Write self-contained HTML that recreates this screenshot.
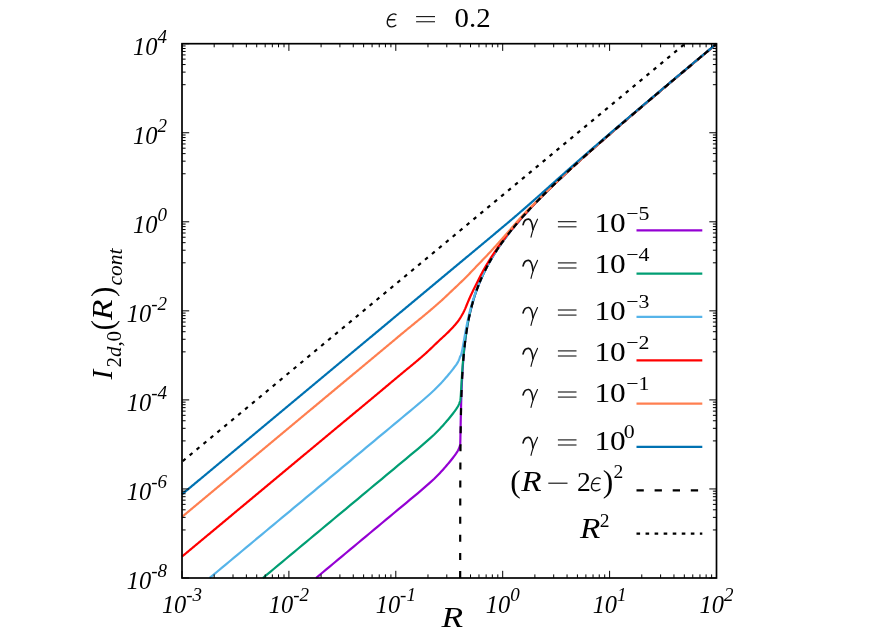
<!DOCTYPE html>
<html><head><meta charset="utf-8"><title>plot</title>
<style>html,body{margin:0;padding:0;background:#fff}body{width:872px;height:638px;position:relative;overflow:hidden;font-family:"Liberation Serif",serif}</style>
</head><body>
<svg width="872" height="638" viewBox="0 0 872 638" style="position:absolute;left:0;top:0;will-change:transform">
<rect x="0" y="0" width="872" height="638" fill="#fff"/>
<g fill="none" stroke-width="2.2" stroke-linejoin="round" stroke-linecap="butt">
<path d="M316.00 578.00 L318.00 576.33 L322.00 573.00 L326.00 569.67 L330.00 566.34 L334.00 563.01 L338.00 559.67 L342.00 556.34 L346.00 553.01 L350.00 549.68 L354.00 546.35 L358.00 543.01 L362.00 539.68 L366.00 536.35 L370.00 533.02 L374.00 529.68 L378.00 526.35 L382.00 523.02 L386.00 519.69 L390.00 516.36 L394.00 513.02 L398.00 509.69 L402.00 506.36 L406.00 503.03 L410.00 499.70 L414.00 496.36 L418.00 493.03 L422.00 489.65 L426.00 486.17 L430.00 482.63 L434.00 478.94 L438.00 474.97 L440.00 472.91 L441.00 471.85 L442.00 470.75 L443.00 469.64 L444.00 468.51 L445.00 467.37 L446.00 466.23 L447.00 465.07 L448.00 463.90 L449.00 462.71 L450.00 461.49 L451.00 460.24 L452.00 458.98 L453.00 457.70 L454.00 456.41 L455.00 455.08 L456.00 453.69 L457.00 452.22 L458.00 450.52 L458.05 450.42 L458.10 450.32 L458.15 450.22 L458.20 450.12 L458.25 450.02 L458.30 449.92 L458.35 449.82 L458.40 449.71 L458.45 449.61 L458.50 449.50 L458.55 449.39 L458.60 449.28 L458.65 449.17 L458.70 449.06 L458.75 448.95 L458.80 448.84 L458.85 448.72 L458.90 448.61 L458.95 448.49 L459.00 448.38 L459.05 448.26 L459.10 448.14 L459.15 448.02 L459.20 447.89 L459.25 447.76 L459.30 447.63 L459.35 447.50 L459.40 447.36 L459.45 447.22 L459.50 447.09 L459.55 446.94 L459.60 446.80 L459.65 446.66 L459.70 446.51 L459.75 446.36 L459.80 446.21 L459.85 446.06 L459.90 445.90 L459.95 445.74 L460.00 445.57 L460.05 445.40 L460.10 445.23 L460.15 445.05 L460.20 444.77 L460.25 443.83 L460.30 442.28 L460.35 440.24 L460.40 437.88 L460.45 435.31 L460.50 432.65 L460.55 429.95 L460.60 427.28 L460.65 424.67 L460.70 422.13 L460.75 419.68 L460.80 417.32 L460.85 415.06 L460.90 412.88 L460.95 410.79 L461.00 408.79 L461.05 406.86 L461.10 405.01 L461.15 403.23 L461.20 401.52 L461.25 399.87 L461.30 398.28 L461.35 396.75 L461.40 395.26 L461.45 393.83 L461.50 392.44 L461.55 391.09 L461.60 389.79 L461.65 388.52 L461.70 387.29 L461.75 386.10 L461.80 384.94 L461.85 383.81 L461.90 382.71 L461.95 381.63 L462.00 380.59 L462.05 379.57 L462.10 378.57 L462.15 377.60 L462.20 376.65 L462.25 375.72 L462.30 374.81 L462.35 373.92 L462.40 373.05 L462.45 372.19 L462.50 371.36 L462.55 370.54 L462.60 369.73 L462.65 368.94 L462.70 368.17 L462.75 367.41 L462.80 366.66 L462.85 365.93 L462.90 365.21 L462.95 364.50 L463.00 363.80 L463.05 363.12 L463.10 362.44 L463.15 361.78 L463.20 361.12 L463.25 360.48 L463.30 359.85 L463.35 359.22 L463.40 358.61 L463.45 358.00 L463.50 357.40 L463.55 356.81 L463.60 356.23 L463.65 355.66 L463.70 355.09 L463.75 354.54 L463.80 353.99 L463.85 353.44 L463.90 352.90 L463.95 352.37 L464.00 351.85 L464.50 346.94 L465.00 342.54 L465.50 338.54 L466.00 334.88 L466.50 331.51 L467.00 328.37 L467.50 325.43 L468.00 322.67 L468.50 320.07 L469.00 317.61 L469.50 315.27 L470.00 313.04 L470.50 310.91 L471.00 308.87 L471.50 306.91 L472.00 305.03 L472.50 303.21 L473.00 301.46 L473.50 299.76 L474.00 298.12 L474.50 296.53 L475.00 294.99 L475.50 293.49 L476.00 292.03 L476.50 290.61 L477.00 289.22 L477.50 287.87 L478.00 286.55 L478.50 285.26 L479.00 284.00 L479.50 282.76 L480.00 281.55 L483.00 274.76 L486.00 268.63 L489.00 263.01 L492.00 257.80 L495.00 252.92 L498.00 248.32 L501.00 243.94 L504.00 239.77 L507.00 235.76 L510.00 231.89 L513.00 228.16 L516.00 224.53 L519.00 221.01 L522.00 217.57 L525.00 214.22 L528.00 210.93 L531.00 207.71 L534.00 204.54 L537.00 201.43 L540.00 198.36 L543.00 195.34 L546.00 192.35 L549.00 189.40 L552.00 186.49 L555.00 183.60 L558.00 180.75 L561.00 177.91 L564.00 175.10 L567.00 172.32 L570.00 169.55 L573.00 166.80 L576.00 164.07 L579.00 161.35 L582.00 158.65 L585.00 155.96 L588.00 153.29 L591.00 150.63 L594.00 147.97 L597.00 145.33 L600.00 142.70 L603.00 140.07 L606.00 137.46 L609.00 134.85 L612.00 132.25 L615.00 129.65 L618.00 127.07 L621.00 124.48 L624.00 121.91 L627.00 119.33 L630.00 116.77 L633.00 114.20 L636.00 111.64 L639.00 109.09 L642.00 106.54 L645.00 103.99 L648.00 101.44 L651.00 98.90 L654.00 96.36 L657.00 93.83 L660.00 91.29 L663.00 88.76 L666.00 86.23 L669.00 83.70 L672.00 81.17 L675.00 78.65 L678.00 76.13 L681.00 73.61 L684.00 71.09 L687.00 68.57 L690.00 66.05 L693.00 63.53 L696.00 61.02 L699.00 58.50 L702.00 55.99 L705.00 53.48 L708.00 50.97 L711.00 48.46 L714.00 45.95 L716.50 43.86" stroke="#9400D3"/>
<path d="M262.90 578.00 L266.00 575.42 L270.00 572.09 L274.00 568.75 L278.00 565.42 L282.00 562.09 L286.00 558.76 L290.00 555.43 L294.00 552.09 L298.00 548.76 L302.00 545.43 L306.00 542.10 L310.00 538.76 L314.00 535.43 L318.00 532.10 L322.00 528.77 L326.00 525.44 L330.00 522.10 L334.00 518.77 L338.00 515.44 L342.00 512.11 L346.00 508.78 L350.00 505.44 L354.00 502.11 L358.00 498.78 L362.00 495.45 L366.00 492.12 L370.00 488.78 L374.00 485.45 L378.00 482.12 L382.00 478.79 L386.00 475.46 L390.00 472.12 L394.00 468.79 L398.00 465.46 L402.00 462.13 L406.00 458.79 L410.00 455.46 L414.00 452.13 L418.00 448.80 L422.00 445.42 L426.00 441.93 L430.00 438.39 L434.00 434.71 L438.00 430.74 L440.00 428.67 L441.00 427.61 L442.00 426.52 L443.00 425.40 L444.00 424.27 L445.00 423.14 L446.00 422.00 L447.00 420.84 L448.00 419.67 L449.00 418.47 L450.00 417.26 L451.00 416.01 L452.00 414.74 L453.00 413.46 L454.00 412.18 L455.00 410.85 L456.00 409.46 L457.00 407.99 L458.00 406.28 L458.05 406.19 L458.10 406.09 L458.15 405.99 L458.20 405.89 L458.25 405.79 L458.30 405.69 L458.35 405.58 L458.40 405.48 L458.45 405.37 L458.50 405.27 L458.55 405.16 L458.60 405.05 L458.65 404.94 L458.70 404.83 L458.75 404.72 L458.80 404.60 L458.85 404.49 L458.90 404.38 L458.95 404.26 L459.00 404.14 L459.05 404.03 L459.10 403.91 L459.15 403.78 L459.20 403.66 L459.25 403.53 L459.30 403.40 L459.35 403.26 L459.40 403.13 L459.45 402.99 L459.50 402.85 L459.55 402.71 L459.60 402.57 L459.65 402.42 L459.70 402.28 L459.75 402.13 L459.80 401.98 L459.85 401.82 L459.90 401.67 L459.95 401.50 L460.00 401.34 L460.05 401.17 L460.10 401.00 L460.15 400.82 L460.20 400.75 L460.25 400.63 L460.30 400.45 L460.35 400.19 L460.40 399.86 L460.45 399.46 L460.50 399.01 L460.55 398.49 L460.60 397.93 L460.65 397.31 L460.70 396.65 L460.75 395.95 L460.80 395.22 L460.85 394.46 L460.90 393.67 L460.95 392.86 L461.00 392.03 L461.05 391.19 L461.10 390.34 L461.15 389.47 L461.20 388.61 L461.25 387.73 L461.30 386.86 L461.35 385.99 L461.40 385.12 L461.45 384.25 L461.50 383.39 L461.55 382.53 L461.60 381.67 L461.65 380.83 L461.70 379.99 L461.75 379.16 L461.80 378.33 L461.85 377.52 L461.90 376.71 L461.95 375.92 L462.00 375.13 L462.05 374.35 L462.10 373.58 L462.15 372.82 L462.20 372.07 L462.25 371.33 L462.30 370.60 L462.35 369.88 L462.40 369.16 L462.45 368.46 L462.50 367.76 L462.55 367.08 L462.60 366.40 L462.65 365.73 L462.70 365.07 L462.75 364.42 L462.80 363.77 L462.85 363.14 L462.90 362.51 L462.95 361.89 L463.00 361.28 L463.05 360.67 L463.10 360.08 L463.15 359.49 L463.20 358.90 L463.25 358.33 L463.30 357.76 L463.35 357.19 L463.40 356.64 L463.45 356.09 L463.50 355.54 L463.55 355.01 L463.60 354.47 L463.65 353.95 L463.70 353.43 L463.75 352.92 L463.80 352.41 L463.85 351.90 L463.90 351.41 L463.95 350.91 L464.00 350.43 L464.50 345.82 L465.00 341.63 L465.50 337.80 L466.00 334.26 L466.50 330.97 L467.00 327.91 L467.50 325.03 L468.00 322.33 L468.50 319.77 L469.00 317.34 L469.50 315.03 L470.00 312.82 L470.50 310.71 L471.00 308.69 L471.50 306.75 L472.00 304.88 L472.50 303.07 L473.00 301.33 L473.50 299.65 L474.00 298.02 L474.50 296.43 L475.00 294.90 L475.50 293.40 L476.00 291.95 L476.50 290.53 L477.00 289.15 L477.50 287.80 L478.00 286.49 L478.50 285.20 L479.00 283.94 L479.50 282.71 L480.00 281.50 L483.00 274.73 L486.00 268.60 L489.00 262.99 L492.00 257.79 L495.00 252.91 L498.00 248.31 L501.00 243.93 L504.00 239.76 L507.00 235.75 L510.00 231.89 L513.00 228.15 L516.00 224.53 L519.00 221.01 L522.00 217.57 L525.00 214.21 L528.00 210.93 L531.00 207.70 L534.00 204.54 L537.00 201.43 L540.00 198.36 L543.00 195.34 L546.00 192.35 L549.00 189.40 L552.00 186.49 L555.00 183.60 L558.00 180.74 L561.00 177.91 L564.00 175.10 L567.00 172.32 L570.00 169.55 L573.00 166.80 L576.00 164.07 L579.00 161.35 L582.00 158.65 L585.00 155.96 L588.00 153.29 L591.00 150.62 L594.00 147.97 L597.00 145.33 L600.00 142.70 L603.00 140.07 L606.00 137.46 L609.00 134.85 L612.00 132.25 L615.00 129.65 L618.00 127.07 L621.00 124.48 L624.00 121.91 L627.00 119.33 L630.00 116.77 L633.00 114.20 L636.00 111.64 L639.00 109.09 L642.00 106.54 L645.00 103.99 L648.00 101.44 L651.00 98.90 L654.00 96.36 L657.00 93.83 L660.00 91.29 L663.00 88.76 L666.00 86.23 L669.00 83.70 L672.00 81.17 L675.00 78.65 L678.00 76.13 L681.00 73.61 L684.00 71.09 L687.00 68.57 L690.00 66.05 L693.00 63.53 L696.00 61.02 L699.00 58.50 L702.00 55.99 L705.00 53.48 L708.00 50.97 L711.00 48.46 L714.00 45.95 L716.50 43.85" stroke="#009E73"/>
<path d="M209.60 578.00 L210.00 577.67 L214.00 574.33 L218.00 571.00 L222.00 567.67 L226.00 564.34 L230.00 561.01 L234.00 557.67 L238.00 554.34 L242.00 551.01 L246.00 547.68 L250.00 544.35 L254.00 541.01 L258.00 537.68 L262.00 534.35 L266.00 531.02 L270.00 527.69 L274.00 524.35 L278.00 521.02 L282.00 517.69 L286.00 514.36 L290.00 511.03 L294.00 507.69 L298.00 504.36 L302.00 501.03 L306.00 497.70 L310.00 494.36 L314.00 491.03 L318.00 487.70 L322.00 484.37 L326.00 481.04 L330.00 477.70 L334.00 474.37 L338.00 471.04 L342.00 467.71 L346.00 464.38 L350.00 461.04 L354.00 457.71 L358.00 454.38 L362.00 451.05 L366.00 447.72 L370.00 444.38 L374.00 441.05 L378.00 437.72 L382.00 434.39 L386.00 431.06 L390.00 427.72 L394.00 424.39 L398.00 421.06 L402.00 417.73 L406.00 414.39 L410.00 411.06 L414.00 407.73 L418.00 404.40 L422.00 401.02 L426.00 397.53 L430.00 393.99 L434.00 390.31 L438.00 386.34 L440.00 384.27 L441.00 383.21 L442.00 382.12 L443.00 381.00 L444.00 379.87 L445.00 378.74 L446.00 377.60 L447.00 376.44 L448.00 375.27 L449.00 374.07 L450.00 372.86 L451.00 371.61 L452.00 370.34 L453.00 369.06 L454.00 367.78 L455.00 366.45 L456.00 365.06 L457.00 363.59 L458.00 361.88 L458.05 361.79 L458.10 361.69 L458.15 361.59 L458.20 361.49 L458.25 361.39 L458.30 361.29 L458.35 361.18 L458.40 361.08 L458.45 360.97 L458.50 360.87 L458.55 360.76 L458.60 360.65 L458.65 360.54 L458.70 360.43 L458.75 360.32 L458.80 360.20 L458.85 360.09 L458.90 359.98 L458.95 359.86 L459.00 359.74 L459.05 359.63 L459.10 359.51 L459.15 359.38 L459.20 359.26 L459.25 359.13 L459.30 359.00 L459.35 358.86 L459.40 358.73 L459.45 358.59 L459.50 358.45 L459.55 358.31 L459.60 358.17 L459.65 358.02 L459.70 357.88 L459.75 357.73 L459.80 357.58 L459.85 357.42 L459.90 357.27 L459.95 357.10 L460.00 356.94 L460.05 356.77 L460.10 356.60 L460.15 356.42 L460.20 356.37 L460.25 356.34 L460.30 356.31 L460.35 356.27 L460.40 356.22 L460.45 356.16 L460.50 356.10 L460.55 356.03 L460.60 355.95 L460.65 355.86 L460.70 355.77 L460.75 355.67 L460.80 355.56 L460.85 355.45 L460.90 355.33 L460.95 355.20 L461.00 355.06 L461.05 354.92 L461.10 354.78 L461.15 354.62 L461.20 354.46 L461.25 354.30 L461.30 354.13 L461.35 353.95 L461.40 353.77 L461.45 353.58 L461.50 353.38 L461.55 353.19 L461.60 352.98 L461.65 352.77 L461.70 352.56 L461.75 352.35 L461.80 352.12 L461.85 351.90 L461.90 351.67 L461.95 351.44 L462.00 351.20 L462.05 350.96 L462.10 350.71 L462.15 350.47 L462.20 350.22 L462.25 349.96 L462.30 349.71 L462.35 349.45 L462.40 349.18 L462.45 348.92 L462.50 348.65 L462.55 348.39 L462.60 348.11 L462.65 347.84 L462.70 347.57 L462.75 347.29 L462.80 347.01 L462.85 346.73 L462.90 346.45 L462.95 346.17 L463.00 345.89 L463.05 345.60 L463.10 345.32 L463.15 345.03 L463.20 344.75 L463.25 344.46 L463.30 344.17 L463.35 343.88 L463.40 343.59 L463.45 343.30 L463.50 343.01 L463.55 342.72 L463.60 342.43 L463.65 342.14 L463.70 341.85 L463.75 341.55 L463.80 341.26 L463.85 340.97 L463.90 340.68 L463.95 340.39 L464.00 340.10 L464.50 337.21 L465.00 334.37 L465.50 331.61 L466.00 328.94 L466.50 326.36 L467.00 323.87 L467.50 321.48 L468.00 319.18 L468.50 316.96 L469.00 314.82 L469.50 312.76 L470.00 310.77 L470.50 308.85 L471.00 306.99 L471.50 305.19 L472.00 303.45 L472.50 301.75 L473.00 300.11 L473.50 298.52 L474.00 296.97 L474.50 295.46 L475.00 293.98 L475.50 292.55 L476.00 291.15 L476.50 289.78 L477.00 288.44 L477.50 287.14 L478.00 285.86 L478.50 284.61 L479.00 283.38 L479.50 282.18 L480.00 281.00 L483.00 274.35 L486.00 268.32 L489.00 262.76 L492.00 257.60 L495.00 252.76 L498.00 248.18 L501.00 243.83 L504.00 239.67 L507.00 235.67 L510.00 231.82 L513.00 228.10 L516.00 224.48 L519.00 220.96 L522.00 217.53 L525.00 214.18 L528.00 210.90 L531.00 207.68 L534.00 204.51 L537.00 201.40 L540.00 198.34 L543.00 195.32 L546.00 192.34 L549.00 189.39 L552.00 186.48 L555.00 183.59 L558.00 180.73 L561.00 177.90 L564.00 175.09 L567.00 172.31 L570.00 169.54 L573.00 166.79 L576.00 164.06 L579.00 161.35 L582.00 158.65 L585.00 155.96 L588.00 153.28 L591.00 150.62 L594.00 147.97 L597.00 145.33 L600.00 142.69 L603.00 140.07 L606.00 137.45 L609.00 134.85 L612.00 132.25 L615.00 129.65 L618.00 127.06 L621.00 124.48 L624.00 121.90 L627.00 119.33 L630.00 116.76 L633.00 114.20 L636.00 111.64 L639.00 109.09 L642.00 106.54 L645.00 103.99 L648.00 101.44 L651.00 98.90 L654.00 96.36 L657.00 93.83 L660.00 91.29 L663.00 88.76 L666.00 86.23 L669.00 83.70 L672.00 81.17 L675.00 78.65 L678.00 76.13 L681.00 73.61 L684.00 71.09 L687.00 68.57 L690.00 66.05 L693.00 63.53 L696.00 61.02 L699.00 58.50 L702.00 55.99 L705.00 53.48 L708.00 50.97 L711.00 48.46 L714.00 45.95 L716.50 43.85" stroke="#56B4E9"/>
<path d="M182.00 556.60 L183.00 555.77 L184.00 554.93 L185.00 554.10 L186.00 553.27 L187.00 552.43 L188.00 551.60 L189.00 550.77 L190.00 549.94 L191.00 549.10 L192.00 548.27 L193.00 547.44 L194.00 546.60 L195.00 545.77 L196.00 544.94 L197.00 544.10 L198.00 543.27 L199.00 542.44 L200.00 541.61 L201.00 540.77 L202.00 539.94 L203.00 539.11 L204.00 538.27 L205.00 537.44 L206.00 536.61 L207.00 535.77 L208.00 534.94 L209.00 534.11 L210.00 533.28 L211.00 532.44 L212.00 531.61 L213.00 530.78 L214.00 529.94 L215.00 529.11 L216.00 528.28 L217.00 527.44 L218.00 526.61 L219.00 525.78 L220.00 524.95 L221.00 524.11 L222.00 523.28 L223.00 522.45 L224.00 521.61 L225.00 520.78 L226.00 519.95 L227.00 519.11 L228.00 518.28 L229.00 517.45 L230.00 516.61 L231.00 515.78 L232.00 514.95 L233.00 514.12 L234.00 513.28 L235.00 512.45 L236.00 511.62 L237.00 510.78 L238.00 509.95 L239.00 509.12 L240.00 508.28 L241.00 507.45 L242.00 506.62 L243.00 505.79 L244.00 504.95 L245.00 504.12 L246.00 503.29 L247.00 502.45 L248.00 501.62 L249.00 500.79 L250.00 499.95 L251.00 499.12 L252.00 498.29 L253.00 497.46 L254.00 496.62 L255.00 495.79 L256.00 494.96 L257.00 494.12 L258.00 493.29 L259.00 492.46 L260.00 491.62 L261.00 490.79 L262.00 489.96 L263.00 489.13 L264.00 488.29 L265.00 487.46 L266.00 486.63 L267.00 485.79 L268.00 484.96 L269.00 484.13 L270.00 483.29 L271.00 482.46 L272.00 481.63 L273.00 480.80 L274.00 479.96 L275.00 479.13 L276.00 478.30 L277.00 477.46 L278.00 476.63 L279.00 475.80 L280.00 474.96 L281.00 474.13 L282.00 473.30 L283.00 472.46 L284.00 471.63 L285.00 470.80 L286.00 469.97 L287.00 469.13 L288.00 468.30 L289.00 467.47 L290.00 466.63 L291.00 465.80 L292.00 464.97 L293.00 464.13 L294.00 463.30 L295.00 462.47 L296.00 461.64 L297.00 460.80 L298.00 459.97 L299.00 459.14 L300.00 458.30 L301.00 457.47 L302.00 456.64 L303.00 455.80 L304.00 454.97 L305.00 454.14 L306.00 453.31 L307.00 452.47 L308.00 451.64 L309.00 450.81 L310.00 449.98 L311.00 449.15 L312.00 448.31 L313.00 447.48 L314.00 446.65 L315.00 445.82 L316.00 444.99 L317.00 444.15 L318.00 443.32 L319.00 442.49 L320.00 441.66 L321.00 440.83 L322.00 440.00 L323.00 439.16 L324.00 438.33 L325.00 437.50 L326.00 436.67 L327.00 435.84 L328.00 435.01 L329.00 434.17 L330.00 433.34 L331.00 432.51 L332.00 431.68 L333.00 430.85 L334.00 430.02 L335.00 429.19 L336.00 428.35 L337.00 427.52 L338.00 426.69 L339.00 425.86 L340.00 425.03 L341.00 424.20 L342.00 423.37 L343.00 422.53 L344.00 421.70 L345.00 420.87 L346.00 420.04 L347.00 419.21 L348.00 418.38 L349.00 417.54 L350.00 416.71 L351.00 415.88 L352.00 415.05 L353.00 414.22 L354.00 413.38 L355.00 412.55 L356.00 411.72 L357.00 410.89 L358.00 410.06 L359.00 409.22 L360.00 408.39 L361.00 407.56 L362.00 406.73 L363.00 405.89 L364.00 405.06 L365.00 404.23 L366.00 403.39 L367.00 402.56 L368.00 401.73 L369.00 400.90 L370.00 400.06 L371.00 399.23 L372.00 398.40 L373.00 397.56 L374.00 396.73 L375.00 395.89 L376.00 395.06 L377.00 394.23 L378.00 393.39 L379.00 392.56 L380.00 391.72 L381.00 390.89 L382.00 390.05 L383.00 389.22 L384.00 388.38 L385.00 387.55 L386.00 386.71 L387.00 385.88 L388.00 385.04 L389.00 384.21 L390.00 383.37 L391.00 382.53 L392.00 381.70 L393.00 380.86 L394.00 380.02 L395.00 379.19 L396.00 378.35 L397.00 377.51 L398.00 376.68 L399.00 375.84 L400.00 375.00 L401.00 374.17 L402.00 373.33 L403.00 372.50 L404.00 371.67 L405.00 370.85 L406.00 370.02 L407.00 369.20 L408.00 368.38 L409.00 367.55 L410.00 366.73 L411.00 365.91 L412.00 365.08 L413.00 364.25 L414.00 363.42 L415.00 362.59 L416.00 361.75 L417.00 360.91 L418.00 360.06 L419.00 359.21 L420.00 358.35 L421.00 357.49 L422.00 356.62 L423.00 355.75 L424.00 354.87 L425.00 353.98 L426.00 353.07 L427.00 352.16 L428.00 351.23 L429.00 350.29 L430.00 349.35 L431.00 348.39 L432.00 347.44 L433.00 346.48 L434.00 345.51 L435.00 344.55 L436.00 343.59 L437.00 342.63 L438.00 341.68 L439.00 340.74 L440.00 339.80 L441.00 338.88 L442.00 337.97 L443.00 337.06 L444.00 336.15 L445.00 335.23 L446.00 334.29 L447.00 333.32 L448.00 332.34 L449.00 331.35 L450.00 330.34 L451.00 329.31 L452.00 328.24 L453.00 327.15 L454.00 326.05 L455.00 324.94 L456.00 323.78 L457.00 322.57 L458.00 321.29 L459.00 319.92 L460.00 318.40 L461.00 316.74 L462.00 314.99 L463.00 313.16 L464.00 311.22 L465.00 309.12 L466.00 306.78 L467.00 304.26 L468.00 301.86 L469.00 299.54 L470.00 297.28 L471.00 295.07 L472.00 292.92 L473.00 290.85 L474.00 288.82 L475.00 286.80 L476.00 284.78 L477.00 282.77 L478.00 280.78 L479.00 278.80 L480.00 276.82 L481.00 274.84 L482.00 272.91 L483.00 271.05 L484.00 269.26 L485.00 267.52 L486.00 265.81 L487.00 264.13 L488.00 262.48 L489.00 260.85 L490.00 259.24 L491.00 257.66 L492.00 256.10 L493.00 254.57 L494.00 253.06 L495.00 251.56 L496.00 250.09 L497.00 248.64 L498.00 247.22 L499.00 245.81 L500.00 244.43 L501.00 243.06 L502.00 241.71 L503.00 240.37 L504.00 239.05 L505.00 237.74 L506.00 236.44 L507.00 235.16 L508.00 233.89 L509.00 232.63 L510.00 231.39 L511.00 230.15 L512.00 228.93 L513.00 227.72 L514.00 226.53 L515.00 225.34 L516.00 224.17 L517.00 223.00 L518.00 221.85 L519.00 220.70 L520.00 219.57 L521.00 218.44 L522.00 217.32 L523.00 216.21 L524.00 215.10 L525.00 214.00 L526.00 212.91 L527.00 211.83 L528.00 210.75 L529.00 209.68 L530.00 208.61 L531.00 207.55 L532.00 206.50 L533.00 205.45 L534.00 204.40 L535.00 203.36 L536.00 202.33 L537.00 201.30 L538.00 200.28 L539.00 199.26 L540.00 198.25 L541.00 197.24 L542.00 196.24 L543.00 195.24 L544.00 194.25 L545.00 193.26 L546.00 192.27 L547.00 191.29 L548.00 190.31 L549.00 189.34 L550.00 188.36 L551.00 187.39 L552.00 186.43 L553.00 185.46 L554.00 184.50 L555.00 183.55 L556.00 182.59 L557.00 181.64 L558.00 180.70 L559.00 179.75 L560.00 178.81 L561.00 177.87 L562.00 176.94 L563.00 176.00 L564.00 175.07 L565.00 174.14 L566.00 173.21 L567.00 172.29 L568.00 171.36 L569.00 170.44 L570.00 169.52 L571.00 168.60 L572.00 167.69 L573.00 166.77 L574.00 165.86 L575.00 164.95 L576.00 164.04 L577.00 163.14 L578.00 162.23 L579.00 161.33 L580.00 160.43 L581.00 159.53 L582.00 158.64 L583.00 157.74 L584.00 156.85 L585.00 155.95 L586.00 155.06 L587.00 154.17 L588.00 153.28 L589.00 152.39 L590.00 151.51 L591.00 150.62 L592.00 149.74 L593.00 148.85 L594.00 147.97 L595.00 147.09 L596.00 146.21 L597.00 145.33 L598.00 144.45 L599.00 143.57 L600.00 142.69 L601.00 141.81 L602.00 140.94 L603.00 140.06 L604.00 139.19 L605.00 138.31 L606.00 137.44 L607.00 136.57 L608.00 135.70 L609.00 134.83 L610.00 133.96 L611.00 133.10 L612.00 132.23 L613.00 131.37 L614.00 130.50 L615.00 129.64 L616.00 128.78 L617.00 127.92 L618.00 127.06 L619.00 126.20 L620.00 125.34 L621.00 124.48 L622.00 123.62 L623.00 122.76 L624.00 121.90 L625.00 121.05 L626.00 120.19 L627.00 119.34 L628.00 118.48 L629.00 117.63 L630.00 116.77 L631.00 115.92 L632.00 115.06 L633.00 114.21 L634.00 113.36 L635.00 112.50 L636.00 111.65 L637.00 110.80 L638.00 109.94 L639.00 109.09 L640.00 108.24 L641.00 107.38 L642.00 106.53 L643.00 105.68 L644.00 104.83 L645.00 103.98 L646.00 103.13 L647.00 102.28 L648.00 101.43 L649.00 100.58 L650.00 99.74 L651.00 98.89 L652.00 98.04 L653.00 97.20 L654.00 96.35 L655.00 95.51 L656.00 94.66 L657.00 93.82 L658.00 92.97 L659.00 92.13 L660.00 91.28 L661.00 90.44 L662.00 89.60 L663.00 88.75 L664.00 87.91 L665.00 87.07 L666.00 86.23 L667.00 85.38 L668.00 84.54 L669.00 83.70 L670.00 82.86 L671.00 82.02 L672.00 81.18 L673.00 80.33 L674.00 79.49 L675.00 78.65 L676.00 77.81 L677.00 76.97 L678.00 76.13 L679.00 75.29 L680.00 74.45 L681.00 73.60 L682.00 72.76 L683.00 71.92 L684.00 71.08 L685.00 70.24 L686.00 69.40 L687.00 68.56 L688.00 67.72 L689.00 66.88 L690.00 66.04 L691.00 65.20 L692.00 64.36 L693.00 63.52 L694.00 62.68 L695.00 61.85 L696.00 61.01 L697.00 60.17 L698.00 59.33 L699.00 58.49 L700.00 57.65 L701.00 56.82 L702.00 55.98 L703.00 55.14 L704.00 54.30 L705.00 53.47 L706.00 52.63 L707.00 51.79 L708.00 50.96 L709.00 50.12 L710.00 49.29 L711.00 48.45 L712.00 47.61 L713.00 46.78 L714.00 45.94 L715.00 45.11 L716.00 44.27 L716.50 43.85" stroke="#FF0000"/>
<path d="M182.00 516.90 L183.00 516.07 L184.00 515.23 L185.00 514.40 L186.00 513.57 L187.00 512.73 L188.00 511.90 L189.00 511.07 L190.00 510.24 L191.00 509.40 L192.00 508.57 L193.00 507.74 L194.00 506.90 L195.00 506.07 L196.00 505.24 L197.00 504.40 L198.00 503.57 L199.00 502.74 L200.00 501.91 L201.00 501.07 L202.00 500.24 L203.00 499.41 L204.00 498.57 L205.00 497.74 L206.00 496.91 L207.00 496.07 L208.00 495.24 L209.00 494.41 L210.00 493.58 L211.00 492.74 L212.00 491.91 L213.00 491.08 L214.00 490.24 L215.00 489.41 L216.00 488.58 L217.00 487.74 L218.00 486.91 L219.00 486.08 L220.00 485.25 L221.00 484.41 L222.00 483.58 L223.00 482.75 L224.00 481.91 L225.00 481.08 L226.00 480.25 L227.00 479.41 L228.00 478.58 L229.00 477.75 L230.00 476.91 L231.00 476.08 L232.00 475.25 L233.00 474.42 L234.00 473.58 L235.00 472.75 L236.00 471.92 L237.00 471.08 L238.00 470.25 L239.00 469.42 L240.00 468.58 L241.00 467.75 L242.00 466.92 L243.00 466.09 L244.00 465.25 L245.00 464.42 L246.00 463.59 L247.00 462.75 L248.00 461.92 L249.00 461.09 L250.00 460.25 L251.00 459.42 L252.00 458.59 L253.00 457.76 L254.00 456.92 L255.00 456.09 L256.00 455.26 L257.00 454.42 L258.00 453.59 L259.00 452.76 L260.00 451.92 L261.00 451.09 L262.00 450.26 L263.00 449.43 L264.00 448.59 L265.00 447.76 L266.00 446.93 L267.00 446.09 L268.00 445.26 L269.00 444.43 L270.00 443.59 L271.00 442.76 L272.00 441.93 L273.00 441.10 L274.00 440.26 L275.00 439.43 L276.00 438.60 L277.00 437.76 L278.00 436.93 L279.00 436.10 L280.00 435.26 L281.00 434.43 L282.00 433.60 L283.00 432.76 L284.00 431.93 L285.00 431.10 L286.00 430.27 L287.00 429.43 L288.00 428.60 L289.00 427.77 L290.00 426.93 L291.00 426.10 L292.00 425.27 L293.00 424.43 L294.00 423.60 L295.00 422.77 L296.00 421.94 L297.00 421.10 L298.00 420.27 L299.00 419.44 L300.00 418.60 L301.00 417.77 L302.00 416.94 L303.00 416.10 L304.00 415.27 L305.00 414.44 L306.00 413.61 L307.00 412.77 L308.00 411.94 L309.00 411.11 L310.00 410.27 L311.00 409.44 L312.00 408.61 L313.00 407.78 L314.00 406.94 L315.00 406.11 L316.00 405.28 L317.00 404.45 L318.00 403.61 L319.00 402.78 L320.00 401.95 L321.00 401.11 L322.00 400.28 L323.00 399.45 L324.00 398.62 L325.00 397.78 L326.00 396.95 L327.00 396.12 L328.00 395.29 L329.00 394.45 L330.00 393.62 L331.00 392.79 L332.00 391.96 L333.00 391.12 L334.00 390.29 L335.00 389.46 L336.00 388.63 L337.00 387.79 L338.00 386.96 L339.00 386.13 L340.00 385.30 L341.00 384.46 L342.00 383.63 L343.00 382.80 L344.00 381.97 L345.00 381.13 L346.00 380.30 L347.00 379.47 L348.00 378.64 L349.00 377.80 L350.00 376.97 L351.00 376.14 L352.00 375.30 L353.00 374.47 L354.00 373.64 L355.00 372.81 L356.00 371.97 L357.00 371.14 L358.00 370.31 L359.00 369.48 L360.00 368.64 L361.00 367.81 L362.00 366.98 L363.00 366.14 L364.00 365.31 L365.00 364.48 L366.00 363.65 L367.00 362.81 L368.00 361.98 L369.00 361.15 L370.00 360.31 L371.00 359.48 L372.00 358.65 L373.00 357.81 L374.00 356.98 L375.00 356.15 L376.00 355.31 L377.00 354.48 L378.00 353.65 L379.00 352.81 L380.00 351.98 L381.00 351.15 L382.00 350.31 L383.00 349.48 L384.00 348.65 L385.00 347.81 L386.00 346.98 L387.00 346.14 L388.00 345.31 L389.00 344.48 L390.00 343.64 L391.00 342.81 L392.00 341.98 L393.00 341.14 L394.00 340.31 L395.00 339.47 L396.00 338.64 L397.00 337.80 L398.00 336.97 L399.00 336.14 L400.00 335.30 L401.00 334.47 L402.00 333.64 L403.00 332.81 L404.00 331.98 L405.00 331.16 L406.00 330.34 L407.00 329.51 L408.00 328.69 L409.00 327.87 L410.00 327.06 L411.00 326.24 L412.00 325.42 L413.00 324.60 L414.00 323.79 L415.00 322.97 L416.00 322.15 L417.00 321.33 L418.00 320.51 L419.00 319.69 L420.00 318.87 L421.00 318.05 L422.00 317.23 L423.00 316.40 L424.00 315.57 L425.00 314.74 L426.00 313.91 L427.00 313.07 L428.00 312.24 L429.00 311.39 L430.00 310.55 L431.00 309.70 L432.00 308.85 L433.00 307.99 L434.00 307.13 L435.00 306.27 L436.00 305.40 L437.00 304.53 L438.00 303.65 L439.00 302.77 L440.00 301.88 L441.00 300.98 L442.00 300.08 L443.00 299.16 L444.00 298.23 L445.00 297.30 L446.00 296.36 L447.00 295.42 L448.00 294.47 L449.00 293.52 L450.00 292.57 L451.00 291.62 L452.00 290.67 L453.00 289.73 L454.00 288.78 L455.00 287.83 L456.00 286.89 L457.00 285.94 L458.00 284.99 L459.00 284.04 L460.00 283.08 L461.00 282.12 L462.00 281.15 L463.00 280.17 L464.00 279.19 L465.00 278.20 L466.00 277.20 L467.00 276.19 L468.00 275.17 L469.00 274.15 L470.00 273.12 L471.00 272.08 L472.00 271.04 L473.00 270.00 L474.00 268.95 L475.00 267.91 L476.00 266.86 L477.00 265.82 L478.00 264.78 L479.00 263.74 L480.00 262.70 L481.00 261.67 L482.00 260.63 L483.00 259.59 L484.00 258.55 L485.00 257.50 L486.00 256.45 L487.00 255.40 L488.00 254.34 L489.00 253.28 L490.00 252.21 L491.00 251.13 L492.00 250.05 L493.00 248.96 L494.00 247.86 L495.00 246.77 L496.00 245.66 L497.00 244.55 L498.00 243.44 L499.00 242.33 L500.00 241.21 L501.00 240.09 L502.00 238.97 L503.00 237.85 L504.00 236.72 L505.00 235.58 L506.00 234.44 L507.00 233.30 L508.00 232.15 L509.00 231.00 L510.00 229.85 L511.00 228.70 L512.00 227.55 L513.00 226.40 L514.00 225.26 L515.00 224.13 L516.00 222.99 L517.00 221.85 L518.00 220.71 L519.00 219.56 L520.00 218.42 L521.00 217.29 L522.00 216.16 L523.00 215.06 L524.00 213.97 L525.00 212.90 L526.00 211.86 L527.00 210.83 L528.00 209.82 L529.00 208.83 L530.00 207.85 L531.00 206.87 L532.00 205.89 L533.00 204.91 L534.00 203.93 L535.00 202.94 L536.00 201.95 L537.00 200.95 L538.00 199.95 L539.00 198.95 L540.00 197.96 L541.00 196.96 L542.00 195.97 L543.00 194.98 L544.00 193.99 L545.00 193.01 L546.00 192.04 L547.00 191.07 L548.00 190.10 L549.00 189.13 L550.00 188.17 L551.00 187.21 L552.00 186.25 L553.00 185.30 L554.00 184.35 L555.00 183.40 L556.00 182.46 L557.00 181.52 L558.00 180.58 L559.00 179.64 L560.00 178.71 L561.00 177.77 L562.00 176.84 L563.00 175.91 L564.00 174.98 L565.00 174.06 L566.00 173.14 L567.00 172.21 L568.00 171.29 L569.00 170.38 L570.00 169.46 L571.00 168.54 L572.00 167.63 L573.00 166.72 L574.00 165.81 L575.00 164.90 L576.00 163.99 L577.00 163.09 L578.00 162.19 L579.00 161.29 L580.00 160.39 L581.00 159.49 L582.00 158.59 L583.00 157.70 L584.00 156.80 L585.00 155.91 L586.00 155.02 L587.00 154.13 L588.00 153.24 L589.00 152.36 L590.00 151.47 L591.00 150.59 L592.00 149.71 L593.00 148.82 L594.00 147.94 L595.00 147.06 L596.00 146.18 L597.00 145.30 L598.00 144.43 L599.00 143.55 L600.00 142.67 L601.00 141.80 L602.00 140.92 L603.00 140.05 L604.00 139.18 L605.00 138.31 L606.00 137.44 L607.00 136.57 L608.00 135.70 L609.00 134.83 L610.00 133.96 L611.00 133.10 L612.00 132.23 L613.00 131.37 L614.00 130.51 L615.00 129.64 L616.00 128.78 L617.00 127.92 L618.00 127.06 L619.00 126.20 L620.00 125.34 L621.00 124.48 L622.00 123.62 L623.00 122.76 L624.00 121.91 L625.00 121.05 L626.00 120.19 L627.00 119.34 L628.00 118.48 L629.00 117.62 L630.00 116.77 L631.00 115.92 L632.00 115.06 L633.00 114.21 L634.00 113.35 L635.00 112.50 L636.00 111.65 L637.00 110.79 L638.00 109.94 L639.00 109.09 L640.00 108.23 L641.00 107.38 L642.00 106.53 L643.00 105.68 L644.00 104.83 L645.00 103.98 L646.00 103.13 L647.00 102.28 L648.00 101.43 L649.00 100.58 L650.00 99.74 L651.00 98.89 L652.00 98.04 L653.00 97.20 L654.00 96.35 L655.00 95.50 L656.00 94.66 L657.00 93.81 L658.00 92.97 L659.00 92.13 L660.00 91.28 L661.00 90.44 L662.00 89.60 L663.00 88.75 L664.00 87.91 L665.00 87.07 L666.00 86.23 L667.00 85.38 L668.00 84.54 L669.00 83.70 L670.00 82.86 L671.00 82.02 L672.00 81.18 L673.00 80.33 L674.00 79.49 L675.00 78.65 L676.00 77.81 L677.00 76.97 L678.00 76.13 L679.00 75.29 L680.00 74.45 L681.00 73.60 L682.00 72.76 L683.00 71.92 L684.00 71.08 L685.00 70.24 L686.00 69.40 L687.00 68.56 L688.00 67.72 L689.00 66.88 L690.00 66.04 L691.00 65.20 L692.00 64.36 L693.00 63.52 L694.00 62.68 L695.00 61.85 L696.00 61.01 L697.00 60.17 L698.00 59.33 L699.00 58.49 L700.00 57.65 L701.00 56.82 L702.00 55.98 L703.00 55.14 L704.00 54.30 L705.00 53.47 L706.00 52.63 L707.00 51.79 L708.00 50.96 L709.00 50.12 L710.00 49.29 L711.00 48.45 L712.00 47.61 L713.00 46.78 L714.00 45.94 L715.00 45.11 L716.00 44.27 L716.50 43.85" stroke="#FF7F50"/>
<path d="M182.00 494.30 L183.00 493.47 L184.00 492.63 L185.00 491.80 L186.00 490.97 L187.00 490.13 L188.00 489.30 L189.00 488.47 L190.00 487.64 L191.00 486.80 L192.00 485.97 L193.00 485.14 L194.00 484.30 L195.00 483.47 L196.00 482.64 L197.00 481.80 L198.00 480.97 L199.00 480.14 L200.00 479.31 L201.00 478.47 L202.00 477.64 L203.00 476.81 L204.00 475.97 L205.00 475.14 L206.00 474.31 L207.00 473.47 L208.00 472.64 L209.00 471.81 L210.00 470.98 L211.00 470.14 L212.00 469.31 L213.00 468.48 L214.00 467.64 L215.00 466.81 L216.00 465.98 L217.00 465.14 L218.00 464.31 L219.00 463.48 L220.00 462.65 L221.00 461.81 L222.00 460.98 L223.00 460.15 L224.00 459.31 L225.00 458.48 L226.00 457.65 L227.00 456.81 L228.00 455.98 L229.00 455.15 L230.00 454.31 L231.00 453.48 L232.00 452.65 L233.00 451.82 L234.00 450.98 L235.00 450.15 L236.00 449.32 L237.00 448.48 L238.00 447.65 L239.00 446.82 L240.00 445.98 L241.00 445.15 L242.00 444.32 L243.00 443.49 L244.00 442.65 L245.00 441.82 L246.00 440.99 L247.00 440.15 L248.00 439.32 L249.00 438.49 L250.00 437.65 L251.00 436.82 L252.00 435.99 L253.00 435.16 L254.00 434.32 L255.00 433.49 L256.00 432.66 L257.00 431.82 L258.00 430.99 L259.00 430.16 L260.00 429.32 L261.00 428.49 L262.00 427.66 L263.00 426.83 L264.00 425.99 L265.00 425.16 L266.00 424.33 L267.00 423.49 L268.00 422.66 L269.00 421.83 L270.00 420.99 L271.00 420.16 L272.00 419.33 L273.00 418.50 L274.00 417.66 L275.00 416.83 L276.00 416.00 L277.00 415.16 L278.00 414.33 L279.00 413.50 L280.00 412.66 L281.00 411.83 L282.00 411.00 L283.00 410.16 L284.00 409.33 L285.00 408.50 L286.00 407.67 L287.00 406.83 L288.00 406.00 L289.00 405.17 L290.00 404.33 L291.00 403.50 L292.00 402.67 L293.00 401.83 L294.00 401.00 L295.00 400.17 L296.00 399.34 L297.00 398.50 L298.00 397.67 L299.00 396.84 L300.00 396.00 L301.00 395.17 L302.00 394.34 L303.00 393.50 L304.00 392.67 L305.00 391.84 L306.00 391.01 L307.00 390.17 L308.00 389.34 L309.00 388.51 L310.00 387.67 L311.00 386.84 L312.00 386.01 L313.00 385.17 L314.00 384.34 L315.00 383.51 L316.00 382.68 L317.00 381.84 L318.00 381.01 L319.00 380.18 L320.00 379.34 L321.00 378.51 L322.00 377.68 L323.00 376.84 L324.00 376.01 L325.00 375.18 L326.00 374.34 L327.00 373.51 L328.00 372.68 L329.00 371.85 L330.00 371.01 L331.00 370.18 L332.00 369.35 L333.00 368.51 L334.00 367.68 L335.00 366.85 L336.00 366.01 L337.00 365.18 L338.00 364.35 L339.00 363.52 L340.00 362.68 L341.00 361.85 L342.00 361.02 L343.00 360.18 L344.00 359.35 L345.00 358.52 L346.00 357.68 L347.00 356.85 L348.00 356.02 L349.00 355.19 L350.00 354.35 L351.00 353.52 L352.00 352.69 L353.00 351.85 L354.00 351.02 L355.00 350.19 L356.00 349.35 L357.00 348.52 L358.00 347.69 L359.00 346.86 L360.00 346.02 L361.00 345.19 L362.00 344.36 L363.00 343.52 L364.00 342.69 L365.00 341.86 L366.00 341.02 L367.00 340.19 L368.00 339.36 L369.00 338.52 L370.00 337.69 L371.00 336.86 L372.00 336.03 L373.00 335.19 L374.00 334.36 L375.00 333.53 L376.00 332.69 L377.00 331.86 L378.00 331.03 L379.00 330.19 L380.00 329.36 L381.00 328.53 L382.00 327.70 L383.00 326.86 L384.00 326.03 L385.00 325.20 L386.00 324.36 L387.00 323.53 L388.00 322.70 L389.00 321.86 L390.00 321.03 L391.00 320.20 L392.00 319.37 L393.00 318.53 L394.00 317.70 L395.00 316.87 L396.00 316.03 L397.00 315.20 L398.00 314.37 L399.00 313.53 L400.00 312.70 L401.00 311.87 L402.00 311.04 L403.00 310.20 L404.00 309.37 L405.00 308.54 L406.00 307.70 L407.00 306.87 L408.00 306.04 L409.00 305.20 L410.00 304.37 L411.00 303.54 L412.00 302.71 L413.00 301.87 L414.00 301.04 L415.00 300.21 L416.00 299.37 L417.00 298.54 L418.00 297.71 L419.00 296.87 L420.00 296.04 L421.00 295.21 L422.00 294.37 L423.00 293.54 L424.00 292.71 L425.00 291.88 L426.00 291.04 L427.00 290.21 L428.00 289.38 L429.00 288.54 L430.00 287.71 L431.00 286.88 L432.00 286.04 L433.00 285.21 L434.00 284.38 L435.00 283.55 L436.00 282.71 L437.00 281.88 L438.00 281.05 L439.00 280.21 L440.00 279.38 L441.00 278.55 L442.00 277.71 L443.00 276.88 L444.00 276.05 L445.00 275.22 L446.00 274.38 L447.00 273.55 L448.00 272.72 L449.00 271.88 L450.00 271.05 L451.00 270.22 L452.00 269.38 L453.00 268.55 L454.00 267.72 L455.00 266.89 L456.00 266.05 L457.00 265.22 L458.00 264.39 L459.00 263.55 L460.00 262.72 L461.00 261.89 L462.00 261.05 L463.00 260.22 L464.00 259.39 L465.00 258.55 L466.00 257.72 L467.00 256.89 L468.00 256.06 L469.00 255.22 L470.00 254.39 L471.00 253.56 L472.00 252.72 L473.00 251.89 L474.00 251.06 L475.00 250.22 L476.00 249.39 L477.00 248.56 L478.00 247.73 L479.00 246.89 L480.00 246.06 L481.00 245.23 L482.00 244.39 L483.00 243.56 L484.00 242.73 L485.00 241.89 L486.00 241.06 L487.00 240.23 L488.00 239.40 L489.00 238.56 L490.00 237.73 L491.00 236.90 L492.00 236.06 L493.00 235.22 L494.00 234.38 L495.00 233.54 L496.00 232.71 L497.00 231.87 L498.00 231.04 L499.00 230.20 L500.00 229.36 L501.00 228.52 L502.00 227.68 L503.00 226.85 L504.00 226.00 L505.00 225.16 L506.00 224.32 L507.00 223.48 L508.00 222.64 L509.00 221.79 L510.00 220.94 L511.00 220.10 L512.00 219.25 L513.00 218.40 L514.00 217.55 L515.00 216.69 L516.00 215.84 L517.00 214.98 L518.00 214.12 L519.00 213.27 L520.00 212.40 L521.00 211.54 L522.00 210.68 L523.00 209.81 L524.00 208.94 L525.00 208.07 L526.00 207.20 L527.00 206.33 L528.00 205.45 L529.00 204.57 L530.00 203.70 L531.00 202.82 L532.00 201.93 L533.00 201.05 L534.00 200.17 L535.00 199.28 L536.00 198.40 L537.00 197.51 L538.00 196.62 L539.00 195.73 L540.00 194.84 L541.00 193.95 L542.00 193.06 L543.00 192.17 L544.00 191.28 L545.00 190.38 L546.00 189.49 L547.00 188.60 L548.00 187.71 L549.00 186.81 L550.00 185.92 L551.00 185.03 L552.00 184.14 L553.00 183.24 L554.00 182.35 L555.00 181.46 L556.00 180.57 L557.00 179.68 L558.00 178.79 L559.00 177.90 L560.00 177.01 L561.00 176.12 L562.00 175.23 L563.00 174.35 L564.00 173.46 L565.00 172.57 L566.00 171.69 L567.00 170.80 L568.00 169.92 L569.00 169.04 L570.00 168.15 L571.00 167.27 L572.00 166.39 L573.00 165.51 L574.00 164.63 L575.00 163.75 L576.00 162.87 L577.00 162.00 L578.00 161.12 L579.00 160.24 L580.00 159.37 L581.00 158.49 L582.00 157.62 L583.00 156.75 L584.00 155.87 L585.00 155.00 L586.00 154.13 L587.00 153.26 L588.00 152.39 L589.00 151.52 L590.00 150.65 L591.00 149.79 L592.00 148.92 L593.00 148.05 L594.00 147.19 L595.00 146.32 L596.00 145.46 L597.00 144.60 L598.00 143.73 L599.00 142.87 L600.00 142.01 L601.00 141.15 L602.00 140.28 L603.00 139.42 L604.00 138.56 L605.00 137.71 L606.00 136.85 L607.00 135.99 L608.00 135.13 L609.00 134.27 L610.00 133.42 L611.00 132.56 L612.00 131.70 L613.00 130.85 L614.00 129.99 L615.00 129.14 L616.00 128.29 L617.00 127.43 L618.00 126.58 L619.00 125.73 L620.00 124.87 L621.00 124.02 L622.00 123.17 L623.00 122.32 L624.00 121.47 L625.00 120.62 L626.00 119.77 L627.00 118.92 L628.00 118.07 L629.00 117.22 L630.00 116.37 L631.00 115.52 L632.00 114.67 L633.00 113.83 L634.00 112.98 L635.00 112.13 L636.00 111.28 L637.00 110.44 L638.00 109.59 L639.00 108.74 L640.00 107.90 L641.00 107.05 L642.00 106.21 L643.00 105.36 L644.00 104.52 L645.00 103.67 L646.00 102.83 L647.00 101.99 L648.00 101.14 L649.00 100.30 L650.00 99.46 L651.00 98.61 L652.00 97.77 L653.00 96.93 L654.00 96.08 L655.00 95.24 L656.00 94.40 L657.00 93.56 L658.00 92.72 L659.00 91.87 L660.00 91.03 L661.00 90.19 L662.00 89.35 L663.00 88.51 L664.00 87.67 L665.00 86.83 L666.00 85.99 L667.00 85.15 L668.00 84.31 L669.00 83.47 L670.00 82.63 L671.00 81.79 L672.00 80.95 L673.00 80.11 L674.00 79.27 L675.00 78.43 L676.00 77.59 L677.00 76.75 L678.00 75.92 L679.00 75.08 L680.00 74.24 L681.00 73.40 L682.00 72.56 L683.00 71.72 L684.00 70.89 L685.00 70.05 L686.00 69.21 L687.00 68.37 L688.00 67.53 L689.00 66.70 L690.00 65.86 L691.00 65.02 L692.00 64.18 L693.00 63.35 L694.00 62.51 L695.00 61.67 L696.00 60.84 L697.00 60.00 L698.00 59.16 L699.00 58.33 L700.00 57.49 L701.00 56.65 L702.00 55.82 L703.00 54.98 L704.00 54.14 L705.00 53.31 L706.00 52.47 L707.00 51.64 L708.00 50.80 L709.00 49.96 L710.00 49.13 L711.00 48.29 L712.00 47.46 L713.00 46.62 L714.00 45.79 L715.00 44.95 L716.00 44.11 L716.50 43.70" stroke="#0072B2"/>
<path d="M460.16 578.00 L460.17 577.11 L460.17 574.44 L460.17 571.77 L460.17 569.10 L460.18 566.42 L460.18 563.75 L460.18 561.08 L460.18 558.41 L460.18 555.74 L460.18 553.07 L460.18 550.39 L460.19 547.72 L460.19 545.05 L460.19 542.38 L460.19 539.71 L460.19 537.04 L460.20 534.37 L460.20 531.69 L460.20 529.02 L460.20 526.35 L460.21 523.68 L460.21 521.01 L460.21 518.34 L460.22 515.66 L460.22 512.99 L460.23 510.32 L460.23 507.65 L460.24 504.98 L460.24 502.31 L460.25 499.64 L460.25 496.96 L460.26 494.29 L460.27 491.62 L460.28 488.95 L460.28 486.28 L460.29 483.61 L460.30 480.94 L460.31 478.26 L460.32 475.59 L460.34 472.92 L460.35 470.25 L460.36 467.58 L460.38 464.91 L460.39 462.23 L460.41 459.56 L460.43 456.89 L460.44 454.22 L460.46 451.55 L460.49 448.88 L460.51 446.21 L460.53 443.53 L460.56 440.86 L460.59 438.19 L460.62 435.52 L460.65 432.85 L460.69 430.18 L460.73 427.51 L460.77 424.83 L460.81 422.16 L460.85 419.49 L460.90 416.82 L460.96 414.15 L461.01 411.48 L461.07 408.80 L461.14 406.13 L461.21 403.46 L461.28 400.79 L461.36 398.12 L461.44 395.45 L461.54 392.78 L461.63 390.10 L461.74 387.43 L461.85 384.76 L461.96 382.09 L462.09 379.42 L462.23 376.75 L462.37 374.08 L462.52 371.40 L462.69 368.73 L462.86 366.06 L463.05 363.39 L463.25 360.72 L463.47 358.05 L463.69 355.37 L463.94 352.70 L464.19 350.03 L464.47 347.36" stroke="#000" stroke-width="2.2" stroke-dasharray="7 11.1"/>
<path d="M464.47 347.36 L464.76 344.69 L465.08 342.02 L465.41 339.35 L465.76 336.67 L466.14 334.00 L466.54 331.33 L466.96 328.66 L467.41 325.99 L467.89 323.32 L468.39 320.65 L468.93 317.97 L469.50 315.30 L470.10 312.63 L470.74 309.96 L471.41 307.29 L472.12 304.62 L472.86 301.94 L473.65 299.27 L474.48 296.60" stroke="#000" stroke-width="2.2" stroke-dasharray="6.5 7" stroke-dashoffset="0"/>
<path d="M474.48 296.60 L475.36 293.93 L476.27 291.26 L477.24 288.59 L478.25 285.92 L479.31 283.24 L480.41 280.57 L481.57 277.90 L482.79 275.23 L484.05 272.56 L485.37 269.89 L486.74 267.22 L488.20 264.46 L490.20 260.88 L492.20 257.46 L494.20 254.19 L496.20 251.05 L498.20 248.01 L500.20 245.08 L502.20 242.25 L504.20 239.49 L506.20 236.81 L508.20 234.19 L510.20 231.64 L512.20 229.14 L514.20 226.69 L516.20 224.29 L518.20 221.94 L520.20 219.62 L522.20 217.34 L524.20 215.10 L526.20 212.89 L528.20 210.71 L530.20 208.56 L532.20 206.43 L534.20 204.33 L536.20 202.25 L538.20 200.19 L540.20 198.15 L542.20 196.14 L544.20 194.13 L546.20 192.15 L548.20 190.18 L550.20 188.23 L552.20 186.29 L554.20 184.37 L556.20 182.45 L558.20 180.55 L560.20 178.66 L562.20 176.78 L564.20 174.91 L566.20 173.05 L568.20 171.20 L570.20 169.36 L572.20 167.53 L574.20 165.70 L576.20 163.88 L578.20 162.07 L580.20 160.27 L582.20 158.47 L584.20 156.67 L586.20 154.89 L588.20 153.11 L590.20 151.33 L592.20 149.56 L594.20 147.79 L596.20 146.03 L598.20 144.27 L600.20 142.52 L602.20 140.77 L604.20 139.02 L606.20 137.28 L608.20 135.54 L610.20 133.80 L612.20 132.07 L614.20 130.34 L616.20 128.61 L618.20 126.89 L620.20 125.17 L622.20 123.45 L624.20 121.73 L626.20 120.01 L628.20 118.30 L630.20 116.59 L632.20 114.88 L634.20 113.17 L636.20 111.47 L638.20 109.77 L640.20 108.06 L642.20 106.36 L644.20 104.66 L646.20 102.97 L648.20 101.27 L650.20 99.58 L652.20 97.88 L654.20 96.19 L656.20 94.50 L658.20 92.81 L660.20 91.12 L662.20 89.43 L664.20 87.74 L666.20 86.06 L668.20 84.37 L670.20 82.69 L672.20 81.00 L674.20 79.32 L676.20 77.64 L678.20 75.96 L680.20 74.27 L682.20 72.59 L684.20 70.91 L686.20 69.23 L688.20 67.56 L690.20 65.88 L692.20 64.20 L694.20 62.52 L696.20 60.85 L698.20 59.17 L700.20 57.49 L702.20 55.82 L704.20 54.14 L706.20 52.47 L708.20 50.80 L710.20 49.12 L712.20 47.45 L714.20 45.77 L716.20 44.10 L716.50 43.86" stroke="#000" stroke-width="2.2" stroke-dasharray="5.9 2.9 5.6 7.1" stroke-dashoffset="15.20"/>
<path d="M182.00 461.70 L685.00 43.70" stroke="#000" stroke-width="2.2" stroke-width="2.1" stroke-dasharray="3.6 5.4" stroke-dashoffset="-1.0"/>
</g>
<g fill="none" stroke-width="2.2">
<path d="M636.5 230.30 H702.3" stroke="#9400D3"/>
<path d="M636.5 273.63 H702.3" stroke="#009E73"/>
<path d="M636.5 316.96 H702.3" stroke="#56B4E9"/>
<path d="M636.5 360.29 H702.3" stroke="#FF0000"/>
<path d="M636.5 403.62 H702.3" stroke="#FF7F50"/>
<path d="M636.5 446.95 H702.3" stroke="#0072B2"/>
<path d="M636.5 490.28 H702.3" stroke="#000" stroke-width="2.2" stroke-dasharray="7.3 10.8"/>
<path d="M636.5 533.61 H702.3" stroke="#000" stroke-width="2.2" stroke-dasharray="3.6 5.45"/>
</g>
<path d="M182.00 578.00 v-7.20 M182.00 43.70 v7.20 M214.18 578.00 v-3.60 M214.18 43.70 v3.60 M233.00 578.00 v-3.60 M233.00 43.70 v3.60 M246.36 578.00 v-3.60 M246.36 43.70 v3.60 M256.72 578.00 v-3.60 M256.72 43.70 v3.60 M265.18 578.00 v-3.60 M265.18 43.70 v3.60 M272.34 578.00 v-3.60 M272.34 43.70 v3.60 M278.54 578.00 v-3.60 M278.54 43.70 v3.60 M284.01 578.00 v-3.60 M284.01 43.70 v3.60 M288.90 578.00 v-7.20 M288.90 43.70 v7.20 M321.08 578.00 v-3.60 M321.08 43.70 v3.60 M339.90 578.00 v-3.60 M339.90 43.70 v3.60 M353.26 578.00 v-3.60 M353.26 43.70 v3.60 M363.62 578.00 v-3.60 M363.62 43.70 v3.60 M372.08 578.00 v-3.60 M372.08 43.70 v3.60 M379.24 578.00 v-3.60 M379.24 43.70 v3.60 M385.44 578.00 v-3.60 M385.44 43.70 v3.60 M390.91 578.00 v-3.60 M390.91 43.70 v3.60 M395.80 578.00 v-7.20 M395.80 43.70 v7.20 M427.98 578.00 v-3.60 M427.98 43.70 v3.60 M446.80 578.00 v-3.60 M446.80 43.70 v3.60 M460.16 578.00 v-3.60 M460.16 43.70 v3.60 M470.52 578.00 v-3.60 M470.52 43.70 v3.60 M478.98 578.00 v-3.60 M478.98 43.70 v3.60 M486.14 578.00 v-3.60 M486.14 43.70 v3.60 M492.34 578.00 v-3.60 M492.34 43.70 v3.60 M497.81 578.00 v-3.60 M497.81 43.70 v3.60 M502.70 578.00 v-7.20 M502.70 43.70 v7.20 M534.88 578.00 v-3.60 M534.88 43.70 v3.60 M553.70 578.00 v-3.60 M553.70 43.70 v3.60 M567.06 578.00 v-3.60 M567.06 43.70 v3.60 M577.42 578.00 v-3.60 M577.42 43.70 v3.60 M585.88 578.00 v-3.60 M585.88 43.70 v3.60 M593.04 578.00 v-3.60 M593.04 43.70 v3.60 M599.24 578.00 v-3.60 M599.24 43.70 v3.60 M604.71 578.00 v-3.60 M604.71 43.70 v3.60 M609.60 578.00 v-7.20 M609.60 43.70 v7.20 M641.78 578.00 v-3.60 M641.78 43.70 v3.60 M660.60 578.00 v-3.60 M660.60 43.70 v3.60 M673.96 578.00 v-3.60 M673.96 43.70 v3.60 M684.32 578.00 v-3.60 M684.32 43.70 v3.60 M692.78 578.00 v-3.60 M692.78 43.70 v3.60 M699.94 578.00 v-3.60 M699.94 43.70 v3.60 M706.14 578.00 v-3.60 M706.14 43.70 v3.60 M711.61 578.00 v-3.60 M711.61 43.70 v3.60 M716.50 578.00 v-7.20 M716.50 43.70 v7.20 M182.00 578.00 h7.20 M716.50 578.00 h-7.20 M182.00 529.95 h3.60 M716.50 529.95 h-3.60 M182.00 517.37 h3.60 M716.50 517.37 h-3.60 M182.00 509.81 h3.60 M716.50 509.81 h-3.60 M182.00 504.39 h3.60 M716.50 504.39 h-3.60 M182.00 500.16 h3.60 M716.50 500.16 h-3.60 M182.00 496.69 h3.60 M716.50 496.69 h-3.60 M182.00 493.75 h3.60 M716.50 493.75 h-3.60 M182.00 491.20 h3.60 M716.50 491.20 h-3.60 M182.00 488.95 h7.20 M716.50 488.95 h-7.20 M182.00 440.90 h3.60 M716.50 440.90 h-3.60 M182.00 428.32 h3.60 M716.50 428.32 h-3.60 M182.00 420.76 h3.60 M716.50 420.76 h-3.60 M182.00 415.34 h3.60 M716.50 415.34 h-3.60 M182.00 411.11 h3.60 M716.50 411.11 h-3.60 M182.00 407.64 h3.60 M716.50 407.64 h-3.60 M182.00 404.70 h3.60 M716.50 404.70 h-3.60 M182.00 402.15 h3.60 M716.50 402.15 h-3.60 M182.00 399.90 h7.20 M716.50 399.90 h-7.20 M182.00 351.85 h3.60 M716.50 351.85 h-3.60 M182.00 339.27 h3.60 M716.50 339.27 h-3.60 M182.00 331.71 h3.60 M716.50 331.71 h-3.60 M182.00 326.29 h3.60 M716.50 326.29 h-3.60 M182.00 322.06 h3.60 M716.50 322.06 h-3.60 M182.00 318.59 h3.60 M716.50 318.59 h-3.60 M182.00 315.65 h3.60 M716.50 315.65 h-3.60 M182.00 313.10 h3.60 M716.50 313.10 h-3.60 M182.00 310.85 h7.20 M716.50 310.85 h-7.20 M182.00 262.80 h3.60 M716.50 262.80 h-3.60 M182.00 250.22 h3.60 M716.50 250.22 h-3.60 M182.00 242.66 h3.60 M716.50 242.66 h-3.60 M182.00 237.24 h3.60 M716.50 237.24 h-3.60 M182.00 233.01 h3.60 M716.50 233.01 h-3.60 M182.00 229.54 h3.60 M716.50 229.54 h-3.60 M182.00 226.60 h3.60 M716.50 226.60 h-3.60 M182.00 224.05 h3.60 M716.50 224.05 h-3.60 M182.00 221.80 h7.20 M716.50 221.80 h-7.20 M182.00 173.75 h3.60 M716.50 173.75 h-3.60 M182.00 161.17 h3.60 M716.50 161.17 h-3.60 M182.00 153.61 h3.60 M716.50 153.61 h-3.60 M182.00 148.19 h3.60 M716.50 148.19 h-3.60 M182.00 143.96 h3.60 M716.50 143.96 h-3.60 M182.00 140.49 h3.60 M716.50 140.49 h-3.60 M182.00 137.55 h3.60 M716.50 137.55 h-3.60 M182.00 135.00 h3.60 M716.50 135.00 h-3.60 M182.00 132.75 h7.20 M716.50 132.75 h-7.20 M182.00 84.70 h3.60 M716.50 84.70 h-3.60 M182.00 72.12 h3.60 M716.50 72.12 h-3.60 M182.00 64.56 h3.60 M716.50 64.56 h-3.60 M182.00 59.14 h3.60 M716.50 59.14 h-3.60 M182.00 54.91 h3.60 M716.50 54.91 h-3.60 M182.00 51.44 h3.60 M716.50 51.44 h-3.60 M182.00 48.50 h3.60 M716.50 48.50 h-3.60 M182.00 45.95 h3.60 M716.50 45.95 h-3.60 M182.00 43.70 h7.20 M716.50 43.70 h-7.20" stroke="#000" stroke-width="1" fill="none"/>
<rect x="182.00" y="43.70" width="534.50" height="534.30" fill="none" stroke="#000" stroke-width="1.7"/>
<text x="167.0" y="589.4" text-anchor="end" font-family="Liberation Serif" font-style="italic" font-size="24.4">10<tspan dy="-12.4" font-size="19">-8</tspan></text>
<text x="167.0" y="500.3" text-anchor="end" font-family="Liberation Serif" font-style="italic" font-size="24.4">10<tspan dy="-12.4" font-size="19">-6</tspan></text>
<text x="167.0" y="411.3" text-anchor="end" font-family="Liberation Serif" font-style="italic" font-size="24.4">10<tspan dy="-12.4" font-size="19">-4</tspan></text>
<text x="167.0" y="322.2" text-anchor="end" font-family="Liberation Serif" font-style="italic" font-size="24.4">10<tspan dy="-12.4" font-size="19">-2</tspan></text>
<text x="167.0" y="233.2" text-anchor="end" font-family="Liberation Serif" font-style="italic" font-size="24.4">10<tspan dy="-12.4" font-size="19">0</tspan></text>
<text x="167.0" y="144.2" text-anchor="end" font-family="Liberation Serif" font-style="italic" font-size="24.4">10<tspan dy="-12.4" font-size="19">2</tspan></text>
<text x="167.0" y="55.1" text-anchor="end" font-family="Liberation Serif" font-style="italic" font-size="24.4">10<tspan dy="-12.4" font-size="19">4</tspan></text>
<text x="182.0" y="613.2" text-anchor="middle" font-family="Liberation Serif" font-style="italic" font-size="24.4">10<tspan dy="-12.4" font-size="19">-3</tspan></text>
<text x="288.9" y="613.2" text-anchor="middle" font-family="Liberation Serif" font-style="italic" font-size="24.4">10<tspan dy="-12.4" font-size="19">-2</tspan></text>
<text x="395.8" y="613.2" text-anchor="middle" font-family="Liberation Serif" font-style="italic" font-size="24.4">10<tspan dy="-12.4" font-size="19">-1</tspan></text>
<text x="502.7" y="613.2" text-anchor="middle" font-family="Liberation Serif" font-style="italic" font-size="24.4">10<tspan dy="-12.4" font-size="19">0</tspan></text>
<text x="609.6" y="613.2" text-anchor="middle" font-family="Liberation Serif" font-style="italic" font-size="24.4">10<tspan dy="-12.4" font-size="19">1</tspan></text>
<text x="716.5" y="613.2" text-anchor="middle" font-family="Liberation Serif" font-style="italic" font-size="24.4">10<tspan dy="-12.4" font-size="19">2</tspan></text>
<path transform="translate(386.8,26.7)" d="M9.2 -12.1 C7.6 -13.3 4.2 -13 2.3 -10.2 C0.3 -7.4 -0.3 -3.2 1.5 -1.2 C3.2 0.8 6.8 0.4 9.0 -1.4 M1.0 -7.0 H8.0" stroke="#111" stroke-width="1.35" fill="none" stroke-linecap="round"/>
<path d="M416.1 16.60 H435.0" stroke="#111" stroke-width="1.1" fill="none"/><path d="M416.1 21.70 H435.0" stroke="#333" stroke-width="1.25" fill="none"/>
<g transform="translate(454.6,26.5) scale(1.030,1)"><text x="0.0" y="0.0" font-family="Liberation Serif" font-size="28.0" text-anchor="start" >0.2</text></g>
<g transform="translate(522.5,231.6)" fill="none" stroke="#111" stroke-linecap="round"><path d="M0.6 -7.0 C1.3 -10.4 3.6 -12.6 6.2 -12.4 C8.8 -12.1 9.9 -7.4 10.5 -2.2" stroke-width="1.7"/><path d="M15.0 -12.4 C13.2 -8.2 11.6 -5.0 10.7 -2.4 C9.8 0.5 9.0 3.0 8.5 5.5" stroke-width="1.15"/></g>
<path d="M557.9 221.70 H576.5" stroke="#111" stroke-width="1.1" fill="none"/><path d="M557.9 226.80 H576.5" stroke="#333" stroke-width="1.25" fill="none"/>
<g transform="translate(594.4,231.6) scale(1.140,1)"><text x="0.0" y="0.0" font-family="Liberation Serif" font-size="27.5" text-anchor="start" >10</text></g>
<g transform="translate(626.3,219.6) scale(1.120,1)"><text x="0.0" y="0.0" font-family="Liberation Serif" font-size="19.5" text-anchor="start" >−5</text></g>
<g transform="translate(522.5,272.8)" fill="none" stroke="#111" stroke-linecap="round"><path d="M0.6 -7.0 C1.3 -10.4 3.6 -12.6 6.2 -12.4 C8.8 -12.1 9.9 -7.4 10.5 -2.2" stroke-width="1.7"/><path d="M15.0 -12.4 C13.2 -8.2 11.6 -5.0 10.7 -2.4 C9.8 0.5 9.0 3.0 8.5 5.5" stroke-width="1.15"/></g>
<path d="M557.9 262.90 H576.5" stroke="#111" stroke-width="1.1" fill="none"/><path d="M557.9 268.00 H576.5" stroke="#333" stroke-width="1.25" fill="none"/>
<g transform="translate(594.4,272.8) scale(1.140,1)"><text x="0.0" y="0.0" font-family="Liberation Serif" font-size="27.5" text-anchor="start" >10</text></g>
<g transform="translate(626.3,260.8) scale(1.120,1)"><text x="0.0" y="0.0" font-family="Liberation Serif" font-size="19.5" text-anchor="start" >−4</text></g>
<g transform="translate(522.5,319.9)" fill="none" stroke="#111" stroke-linecap="round"><path d="M0.6 -7.0 C1.3 -10.4 3.6 -12.6 6.2 -12.4 C8.8 -12.1 9.9 -7.4 10.5 -2.2" stroke-width="1.7"/><path d="M15.0 -12.4 C13.2 -8.2 11.6 -5.0 10.7 -2.4 C9.8 0.5 9.0 3.0 8.5 5.5" stroke-width="1.15"/></g>
<path d="M557.9 310.00 H576.5" stroke="#111" stroke-width="1.1" fill="none"/><path d="M557.9 315.10 H576.5" stroke="#333" stroke-width="1.25" fill="none"/>
<g transform="translate(594.4,319.9) scale(1.140,1)"><text x="0.0" y="0.0" font-family="Liberation Serif" font-size="27.5" text-anchor="start" >10</text></g>
<g transform="translate(626.3,307.9) scale(1.120,1)"><text x="0.0" y="0.0" font-family="Liberation Serif" font-size="19.5" text-anchor="start" >−3</text></g>
<g transform="translate(522.5,360.8)" fill="none" stroke="#111" stroke-linecap="round"><path d="M0.6 -7.0 C1.3 -10.4 3.6 -12.6 6.2 -12.4 C8.8 -12.1 9.9 -7.4 10.5 -2.2" stroke-width="1.7"/><path d="M15.0 -12.4 C13.2 -8.2 11.6 -5.0 10.7 -2.4 C9.8 0.5 9.0 3.0 8.5 5.5" stroke-width="1.15"/></g>
<path d="M557.9 350.90 H576.5" stroke="#111" stroke-width="1.1" fill="none"/><path d="M557.9 356.00 H576.5" stroke="#333" stroke-width="1.25" fill="none"/>
<g transform="translate(594.4,360.8) scale(1.140,1)"><text x="0.0" y="0.0" font-family="Liberation Serif" font-size="27.5" text-anchor="start" >10</text></g>
<g transform="translate(626.3,348.8) scale(1.120,1)"><text x="0.0" y="0.0" font-family="Liberation Serif" font-size="19.5" text-anchor="start" >−2</text></g>
<g transform="translate(522.5,401.9)" fill="none" stroke="#111" stroke-linecap="round"><path d="M0.6 -7.0 C1.3 -10.4 3.6 -12.6 6.2 -12.4 C8.8 -12.1 9.9 -7.4 10.5 -2.2" stroke-width="1.7"/><path d="M15.0 -12.4 C13.2 -8.2 11.6 -5.0 10.7 -2.4 C9.8 0.5 9.0 3.0 8.5 5.5" stroke-width="1.15"/></g>
<path d="M557.9 392.00 H576.5" stroke="#111" stroke-width="1.1" fill="none"/><path d="M557.9 397.10 H576.5" stroke="#333" stroke-width="1.25" fill="none"/>
<g transform="translate(594.4,401.9) scale(1.140,1)"><text x="0.0" y="0.0" font-family="Liberation Serif" font-size="27.5" text-anchor="start" >10</text></g>
<g transform="translate(626.3,389.9) scale(1.120,1)"><text x="0.0" y="0.0" font-family="Liberation Serif" font-size="19.5" text-anchor="start" >−1</text></g>
<g transform="translate(522.5,449.8)" fill="none" stroke="#111" stroke-linecap="round"><path d="M0.6 -7.0 C1.3 -10.4 3.6 -12.6 6.2 -12.4 C8.8 -12.1 9.9 -7.4 10.5 -2.2" stroke-width="1.7"/><path d="M15.0 -12.4 C13.2 -8.2 11.6 -5.0 10.7 -2.4 C9.8 0.5 9.0 3.0 8.5 5.5" stroke-width="1.15"/></g>
<path d="M557.9 439.90 H576.5" stroke="#111" stroke-width="1.1" fill="none"/><path d="M557.9 445.00 H576.5" stroke="#333" stroke-width="1.25" fill="none"/>
<g transform="translate(594.4,449.8) scale(1.140,1)"><text x="0.0" y="0.0" font-family="Liberation Serif" font-size="27.5" text-anchor="start" >10</text></g>
<g transform="translate(623.8,437.8) scale(1.120,1)"><text x="0.0" y="0.0" font-family="Liberation Serif" font-size="19.5" text-anchor="start" >0</text></g>
<text x="510.2" y="491.5" font-family="Liberation Serif" font-size="31.5" text-anchor="start" >(</text>
<g transform="translate(521.3,490.5) scale(1.130,1)"><text x="0.0" y="0.0" font-family="Liberation Serif" font-size="29.5" text-anchor="start" font-style="italic" >R</text></g>
<path d="M548.3 483.20 H567.5" stroke="#111" stroke-width="1.15"/>
<text x="577.0" y="490.5" font-family="Liberation Serif" font-size="27.5" text-anchor="start" >2</text>
<path transform="translate(591.0,490.6)" d="M9.2 -12.1 C7.6 -13.3 4.2 -13 2.3 -10.2 C0.3 -7.4 -0.3 -3.2 1.5 -1.2 C3.2 0.8 6.8 0.4 9.0 -1.4 M1.0 -7.0 H8.0" stroke="#111" stroke-width="1.35" fill="none" stroke-linecap="round"/>
<text x="602.8" y="491.5" font-family="Liberation Serif" font-size="31.5" text-anchor="start" >)</text>
<text x="613.5" y="478.0" font-family="Liberation Serif" font-size="19.5" text-anchor="start" >2</text>
<g transform="translate(580.0,537.8) scale(1.130,1)"><text x="0.0" y="0.0" font-family="Liberation Serif" font-size="29.5" text-anchor="start" font-style="italic" >R</text></g>
<text x="599.8" y="526.5" font-family="Liberation Serif" font-size="19.5" text-anchor="start" >2</text>
<g transform="translate(441.6,626.9) scale(1.200,1)"><text x="0.0" y="0.0" font-family="Liberation Serif" font-size="29.5" text-anchor="start" font-style="italic" >R</text></g>
<g transform="translate(112.3,379.6) rotate(-90)">
<text x="0.0" y="0.0" font-family="Liberation Serif" font-size="29.5" text-anchor="start" font-style="italic" >I</text>
<text x="12.0" y="9.0" font-family="Liberation Serif" font-size="21.0" text-anchor="start" >2</text><text x="22.5" y="9.0" font-family="Liberation Serif" font-size="21.0" text-anchor="start" font-style="italic" >d</text><text x="33.0" y="9.0" font-family="Liberation Serif" font-size="21.0" text-anchor="start" >,</text><text x="38.0" y="9.0" font-family="Liberation Serif" font-size="21.0" text-anchor="start" >0</text>
<text x="49.0" y="1.0" font-family="Liberation Serif" font-size="31.5" text-anchor="start" >(</text><g transform="translate(59.5,0.0) scale(1.130,1)"><text x="0.0" y="0.0" font-family="Liberation Serif" font-size="29.5" text-anchor="start" font-style="italic" >R</text></g><text x="82.5" y="1.0" font-family="Liberation Serif" font-size="31.5" text-anchor="start" >)</text>
<text x="94.0" y="9.5" font-family="Liberation Serif" font-size="21.5" text-anchor="start" font-style="italic" >cont</text>
</g>
</svg>
</body></html>
